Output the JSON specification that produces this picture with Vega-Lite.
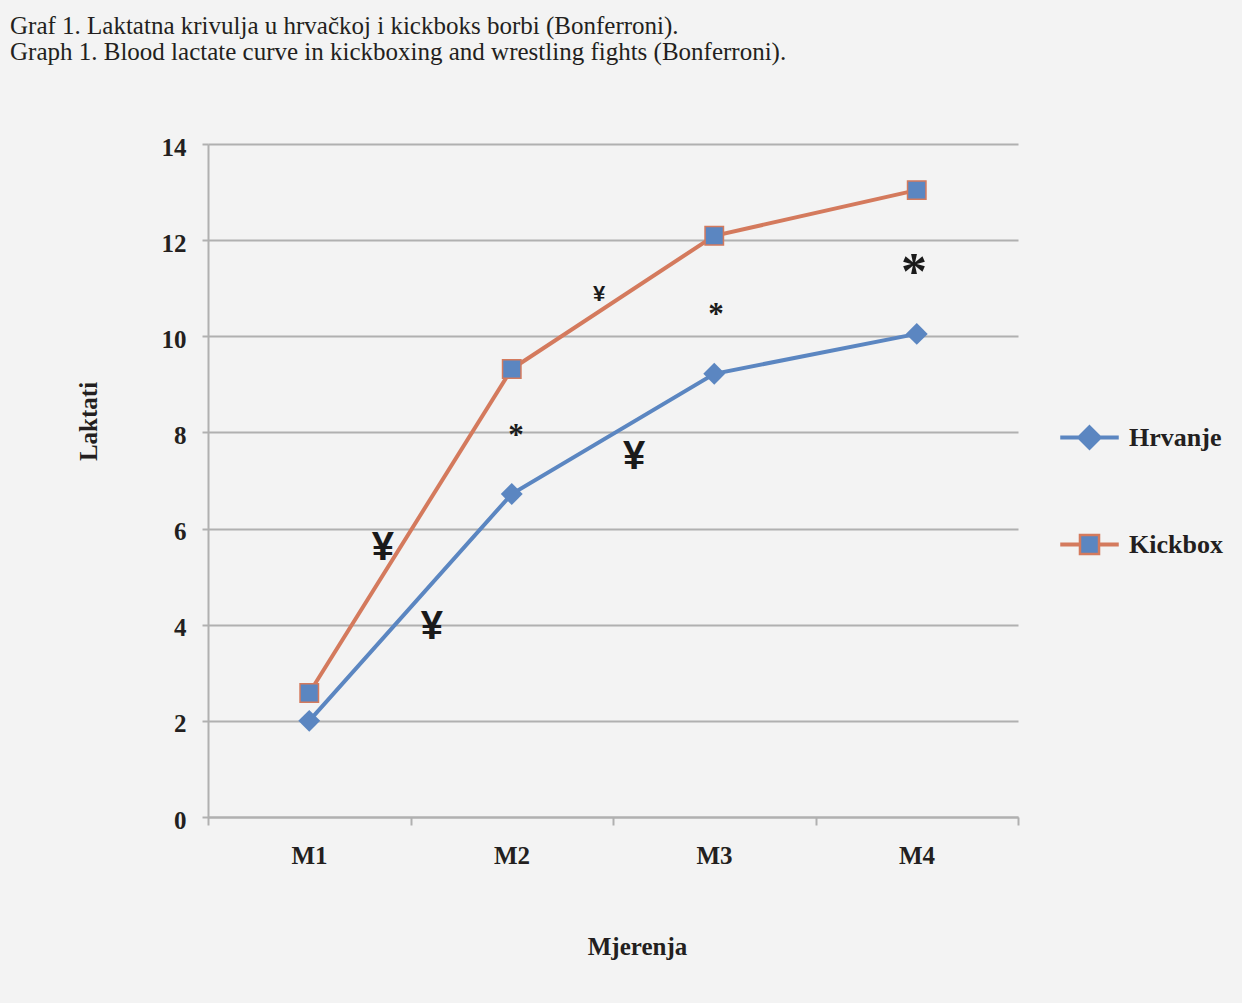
{
  "$schema": "https://vega.github.io/schema/vega-lite/v6.json",
  "autosize": "none",
  "padding": {"left": 208, "top": 144, "right": 224, "bottom": 186},
  "width": 810,
  "height": 673,
  "background": "#f3f3f3",
  "view": {"stroke": null},
  "title": {
    "text": ["Graf 1.    Laktatna krivulja u hrvačkoj i kickboks borbi (Bonferroni).", "Graph 1.  Blood lactate curve in kickboxing and wrestling fights (Bonferroni)."],
    "anchor": "start",
    "frame": "group",
    "dx": -198,
    "offset": 70,
    "font": "Liberation Serif",
    "fontSize": 25,
    "fontWeight": "normal",
    "color": "#231f20",
    "lineHeight": 26
  },
  "datasets": {
    "lactate": [
      {"m": 1, "series": "Hrvanje", "value": 2.0},
      {"m": 2, "series": "Hrvanje", "value": 6.72},
      {"m": 3, "series": "Hrvanje", "value": 9.22},
      {"m": 4, "series": "Hrvanje", "value": 10.05},
      {"m": 1, "series": "Kickbox", "value": 2.58},
      {"m": 2, "series": "Kickbox", "value": 9.32},
      {"m": 3, "series": "Kickbox", "value": 12.09},
      {"m": 4, "series": "Kickbox", "value": 13.04}
    ],
    "marks": [
      {"x": 1.364, "y": 5.6, "label": "¥", "kind": "bigYen"},
      {"x": 1.606, "y": 3.95, "label": "¥", "kind": "bigYen"},
      {"x": 2.604, "y": 7.49, "label": "¥", "kind": "bigYen"},
      {"x": 2.431, "y": 10.88, "label": "¥", "kind": "smallYen"},
      {"x": 2.021, "y": 8.07, "label": "*", "kind": "smallStar"},
      {"x": 3.009, "y": 10.59, "label": "*", "kind": "smallStar"},
      {"x": 3.986, "y": 11.55, "label": "*", "kind": "bigStar"}
    ]
  },
  "layer": [
    {
      "data": {"name": "lactate"},
      "mark": {"type": "line", "strokeWidth": 4},
      "encoding": {
        "x": {
          "field": "m", "type": "quantitative",
          "scale": {"domain": [0.5, 4.5], "nice": false, "zero": false},
          "axis": {
            "values": [0.5, 1.5, 2.5, 3.5, 4.5],
            "labelExpr": "datum.value < 4 ? 'M' + (datum.value + 0.5) : ''",
            "labelOffset": 101,
            "labelFlush": false,
            "labelOverlap": false,
            "grid": false,
            "domainColor": "#b0b0b0", "domainWidth": 2,
            "tickColor": "#b0b0b0", "tickWidth": 2, "tickSize": 8,
            "labelFont": "Liberation Serif", "labelFontWeight": "bold", "labelFontSize": 25,
            "labelColor": "#231f20", "labelPadding": 18,
            "title": "Mjerenja",
            "titleFont": "Liberation Serif", "titleFontWeight": "bold", "titleFontSize": 25,
            "titleColor": "#231f20",
            "titleX": 429, "titleY": 129, "titleBaseline": "middle", "titleAlign": "center"
          }
        },
        "y": {
          "field": "value", "type": "quantitative",
          "scale": {"domain": [0, 14], "nice": false},
          "axis": {
            "values": [0, 2, 4, 6, 8, 10, 12, 14],
            "grid": true, "gridColor": "#b0b0b0", "gridWidth": 2,
            "domainColor": "#b0b0b0", "domainWidth": 2,
            "tickColor": "#b0b0b0", "tickWidth": 2, "tickSize": 6,
            "labelFont": "Liberation Serif", "labelFontWeight": "bold", "labelFontSize": 25,
            "labelColor": "#231f20", "labelPadding": 16, "labelOffset": 3,
            "title": "Laktati",
            "titleFont": "Liberation Serif", "titleFontWeight": "bold", "titleFontSize": 25,
            "titleColor": "#231f20",
            "titleAngle": -90,
            "titleX": -120, "titleY": 277, "titleBaseline": "middle", "titleAlign": "center"
          }
        },
        "color": {
          "field": "series", "type": "nominal",
          "scale": {"domain": ["Hrvanje", "Kickbox"], "range": ["#5b86c1", "#d47a5d"]},
          "legend": {
            "orient": "none", "legendX": 852, "legendY": 264,
            "title": null, "padding": 0, "rowPadding": 61,
            "symbolSize": 3136, "labelOffset": 10,
            "labelFont": "Liberation Serif", "labelFontWeight": "bold", "labelFontSize": 26,
            "labelColor": "#231f20",
            "encode": {
              "symbols": {
                "update": {
                  "shape": {"signal": "datum.value === 'Hrvanje' ? 'M-1,-0.03H-0.4V0.03H-1Z M0.4,-0.03H1V0.03H0.4Z M0,-0.4L0.4,0L0,0.4L-0.4,0Z' : 'M-1,-0.03H-0.34V0.03H-1Z M0.34,-0.03H1V0.03H0.34Z M-0.34,-0.34H0.34V0.34H-0.34Z'"},
                  "fill": {"value": "#5b86c1"},
                  "fillOpacity": {"value": 1},
                  "stroke": {"signal": "datum.value === 'Hrvanje' ? '#5b86c1' : '#d47a5d'"},
                  "strokeWidth": {"value": 2.5},
                  "size": {"value": 3136}
                }
              }
            }
          }
        }
      }
    },
    {
      "data": {"name": "lactate"},
      "transform": [{"filter": "datum.series === 'Hrvanje'"}],
      "mark": {"type": "point", "shape": "diamond", "filled": true, "color": "#5b86c1", "opacity": 1, "size": 480},
      "encoding": {
        "x": {"field": "m", "type": "quantitative"},
        "y": {"field": "value", "type": "quantitative"}
      }
    },
    {
      "data": {"name": "lactate"},
      "transform": [{"filter": "datum.series === 'Kickbox'"}],
      "mark": {"type": "point", "shape": "square", "filled": true, "fill": "#5b86c1", "stroke": "#d47a5d", "strokeWidth": 1.5, "opacity": 1, "size": 340},
      "encoding": {
        "x": {"field": "m", "type": "quantitative"},
        "y": {"field": "value", "type": "quantitative"}
      }
    },
    {
      "data": {"name": "marks"},
      "transform": [{"filter": "datum.kind === 'bigYen'"}],
      "mark": {"type": "text", "font": "Liberation Sans", "fontWeight": "bold", "fontSize": 40, "color": "#1a1a1a", "baseline": "middle", "align": "center"},
      "encoding": {
        "x": {"field": "x", "type": "quantitative"},
        "y": {"field": "y", "type": "quantitative"},
        "text": {"field": "label"}
      }
    },
    {
      "data": {"name": "marks"},
      "transform": [{"filter": "datum.kind === 'smallYen'"}],
      "mark": {"type": "text", "font": "Liberation Sans", "fontWeight": "bold", "fontSize": 22, "color": "#1a1a1a", "baseline": "middle", "align": "center"},
      "encoding": {
        "x": {"field": "x", "type": "quantitative"},
        "y": {"field": "y", "type": "quantitative"},
        "text": {"field": "label"}
      }
    },
    {
      "data": {"name": "marks"},
      "transform": [{"filter": "datum.kind === 'smallStar'"}],
      "mark": {"type": "text", "font": "Liberation Serif", "fontWeight": "bold", "fontSize": 31, "color": "#1a1a1a", "baseline": "middle", "align": "center", "dy": 7},
      "encoding": {
        "x": {"field": "x", "type": "quantitative"},
        "y": {"field": "y", "type": "quantitative"},
        "text": {"field": "label"}
      }
    },
    {
      "data": {"name": "marks"},
      "transform": [{"filter": "datum.kind === 'bigStar'"}],
      "mark": {"type": "text", "font": "Liberation Serif", "fontWeight": "bold", "fontSize": 52, "color": "#1a1a1a", "baseline": "middle", "align": "center", "dy": 11},
      "encoding": {
        "x": {"field": "x", "type": "quantitative"},
        "y": {"field": "y", "type": "quantitative"},
        "text": {"field": "label"}
      }
    }
  ]
}
